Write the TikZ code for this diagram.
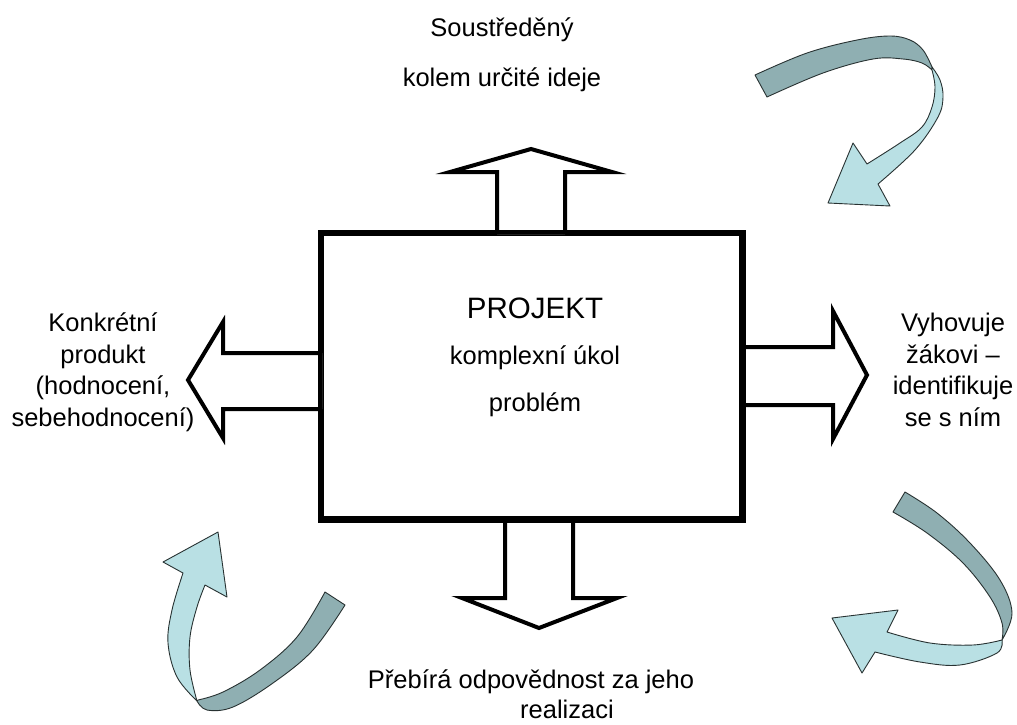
\documentclass[tikz,border=0pt]{standalone}
\usepackage{fontspec}
\setmainfont{Liberation Sans}
\begin{document}
\begin{tikzpicture}[x=1pt,y=-1pt,
  txt/.style={inner sep=0pt,align=center,font=\fontsize{25.5}{31.5}\selectfont},
  blockarrow/.style={line width=4pt,line join=miter,fill=white},
  frontband/.style={fill=lightband,draw=outline,line width=0.9pt,line join=round},
  backband/.style={fill=darkband,draw=outline,line width=0.9pt,line join=round}]
\definecolor{lightband}{RGB}{185,224,228}
\definecolor{darkband}{RGB}{143,175,178}
\definecolor{outline}{RGB}{40,50,50}
\useasboundingbox[fill=white] (0,0) rectangle (1017,724);

% main box
\node[draw,line width=4.5pt,minimum width=419pt,minimum height=284pt,inner sep=0pt] (box) at (531.5,376) {};

% block arrows
\draw[blockarrow] (497,234) -- (497,172) -- (450,172) -- (531,149) -- (612,172) -- (565,172) -- (565,234);
\draw[blockarrow] (505,518) -- (505,598) -- (462,598) -- (539,628) -- (617,598) -- (573,598) -- (573,518);
\draw[blockarrow] (322,353) -- (223,353) -- (223,322) -- (188,380) -- (223,438) -- (223,409) -- (322,409);
\draw[blockarrow] (741,347) -- (833,347) -- (833,311) -- (867,375) -- (833,439) -- (833,405) -- (741,405);
\draw[line width=4.5pt] (box.north west) rectangle (box.south east);

% texts
\node[txt,font=\fontsize{29.5}{36}\selectfont] (proj) at (535,308) {PROJEKT};
\node[txt] (ukol) at (535,358) {komplexní úkol};
\node[txt] (probl) at (535,405) {problém};
\node[txt] (top1) at (502,30) {Soustředěný};
\node[txt] (top2) at (502,80) {kolem určité ideje};
\node[txt] (left) at (103,372) {Konkrétní\\produkt\\(hodnocení,\\sebehodnocení)};
\node[txt] (right) at (953,370) {Vyhovuje\\žákovi –\\identifikuje\\se s ním};
\node[txt] (bot1) at (531,682) {Přebírá odpovědnost za jeho};
\node[txt] (bot2) at (567,709) {realizaci};

% curved arrow top right
\draw[backband] plot[smooth,tension=0.6] coordinates {(755,75) (807,53) (857,40) (890,36) (910,40) (923,50) (932,67)}
  -- plot[smooth,tension=0.6] coordinates {(932,70) (922,63) (903,59) (873,59) (823,73) (767,97)} -- cycle;
\draw[frontband] plot[smooth,tension=0.6] coordinates {(932,67) (940,80) (943,97) (938,117) (915,150) (878,184)}
  -- (890,206) -- (828,203) -- (853,143) -- (867,164)
  -- plot[smooth,tension=0.6] coordinates {(867,164) (900,143) (922,127) (932,107) (935,87) (932,70)} -- cycle;

% curved arrow bottom right
\draw[backband] plot[smooth,tension=0.6] coordinates {(905,492) (937,513) (970,543) (1000,580) (1012,613) (1002,640)}
  -- plot[smooth,tension=0.6] coordinates {(1002,640) (1002,623) (990,597) (963,563) (927,533) (893,512)} -- cycle;
\draw[frontband] plot[smooth,tension=0.6] coordinates {(1002,640) (973,645) (930,643) (887,632)}
  -- (898,610) -- (832,618) -- (862,673) -- (875,652)
  -- plot[smooth,tension=0.6] coordinates {(875,652) (920,662) (960,665) (997,653) (1002,640)} -- cycle;

% curved arrow bottom left
\draw[backband] plot[smooth,tension=0.6] coordinates {(345,605) (313,650) (273,683) (233,707) (207,710) (197,701)}
  -- plot[smooth,tension=0.6] coordinates {(198,700) (223,692) (260,670) (297,637) (325,592)} -- cycle;
\draw[frontband] plot[smooth,tension=0.6] coordinates {(197,701) (177,677) (168,643) (172,610) (183,573)}
  -- (163,562) -- (218,532) -- (227,597) -- (205,585)
  -- plot[smooth,tension=0.6] coordinates {(205,585) (197,607) (190,637) (190,670) (197,701)} -- cycle;
\end{tikzpicture}
\end{document}
